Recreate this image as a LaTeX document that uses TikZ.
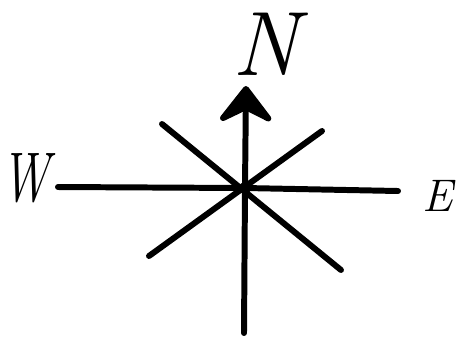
\documentclass[tikz,border=0pt]{standalone}
\usepackage{amsmath,amssymb}
\usepackage{tikz}
\usetikzlibrary{arrows.meta}

\begin{document}
\begin{tikzpicture}[x=0.02cm,y=-0.02cm]
	  \useasboundingbox (0,0) rectangle (467,336);
	  \tikzset{ray/.style={line width=3.4pt,line cap=round},
	    head/.style={-{Stealth[length=24pt,width=37pt,inset=9pt,round]}}}
	  \coordinate (o) at (245,188);
	  \coordinate (w) at (58,187);
	  \coordinate (e) at (398,191);
	  \coordinate (n) at (246,86);
	  \coordinate (s) at (244,333);
	  \coordinate (nw) at (162,124);
	  \coordinate (se) at (341,270);
	  \coordinate (ne) at (322,131);
	  \coordinate (sw) at (149,256);
	  \draw[ray] (o) -- (w);
	  \draw[ray] (o) -- (e);
	  \draw[ray] (o) -- (s);
	  \draw[ray] (nw) -- (se);
	  \draw[ray] (ne) -- (sw);
	  \draw[ray,head] (o) -- (n);
	  \fill (o) circle (6);
	  \node[font=\itshape\fontsize{52}{52}\selectfont] (lN) at (266,44) {N};
	  \node[font=\itshape\fontsize{40}{40}\selectfont,xscale=0.7] (lW) at (26,178) {W};
	  \node[font=\itshape\fontsize{26}{26}\selectfont] (lE) at (438,196) {E};
	\end{tikzpicture}
\end{document}
